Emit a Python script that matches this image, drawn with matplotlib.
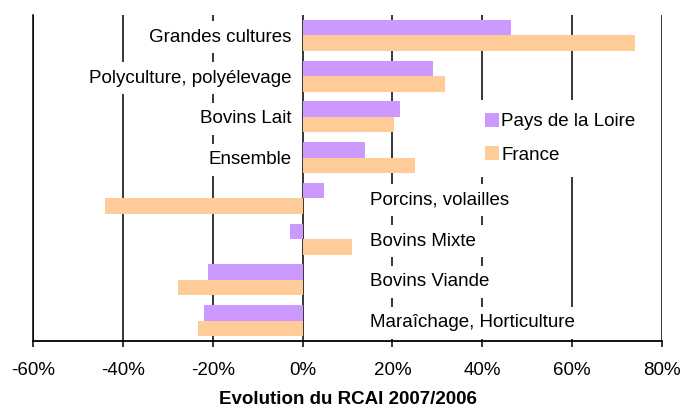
import matplotlib.pyplot as plt
import numpy as np

plt.rcParams['font.family'] = ['Liberation Sans', 'DejaVu Sans']

categories = ["Grandes cultures", "Polyculture, polyélevage", "Bovins Lait", "Ensemble",
              "Porcins, volailles", "Bovins Mixte", "Bovins Viande", "Maraîchage, Horticulture"]
pays_loire = [46.3, 29.0, 21.6, 13.8, 4.7, -2.7, -21.0, -22.0]
france = [74.0, 31.6, 20.3, 25.0, -44.0, 11.1, -27.8, -23.2]
xticks = [-60, -40, -20, 0, 20, 40, 60, 80]

c_pdl = "#CC99FF"
c_fr = "#FFCC99"
fs = 13.5

fig = plt.figure(figsize=(6.8, 4.09), dpi=100)
ax = fig.add_axes([33/680, 1 - 341/409, (662 - 33)/680, (341 - 15)/409])

y = np.arange(len(categories))
h = 0.38
ax.barh(y - h/2, pays_loire, height=h, color=c_pdl, label="Pays de la Loire", zorder=2)
ax.barh(y + h/2, france, height=h, color=c_fr, label="France", zorder=2)

for x in xticks:
    ax.axvline(x, color="black", lw=1.1, zorder=1)

# category labels sit next to the zero line, white box hides the grid behind them
for i, cat in enumerate(categories):
    if i < 4:
        ax.text(-2.5, i + 0.05, cat, ha="right", va="center", fontsize=fs, zorder=3,
                bbox=dict(boxstyle="square,pad=0.4", facecolor="white", edgecolor="none"))
    else:
        ax.text(15, i + 0.05, cat, ha="left", va="center", fontsize=fs, zorder=3,
                bbox=dict(boxstyle="square,pad=0.4", facecolor="white", edgecolor="none"))

ax.set_xlim(-60, 80)
ax.set_ylim(len(categories) - 0.5, -0.5)
ax.set_xticks(xticks)
ax.set_xticklabels([f"{v}%" for v in xticks], fontsize=fs)
ax.set_yticks([])
ax.tick_params(axis="x", direction="out", length=4, width=1.1, pad=11)
ax.spines["top"].set_visible(False)
ax.spines["right"].set_visible(False)
ax.spines["left"].set_linewidth(1.1)
ax.spines["bottom"].set_linewidth(1.3)
ax.set_xlabel("Evolution du RCAI 2007/2006", fontsize=fs, fontweight="bold", labelpad=9)

leg = ax.legend(loc="upper left", bbox_to_anchor=(0.697, 0.74), frameon=True, fontsize=fs,
                handlelength=0.75, handleheight=0.75, handletextpad=0.15, labelspacing=0.85,
                borderpad=0.7, borderaxespad=0, fancybox=False)
leg.get_frame().set_edgecolor("none")
leg.get_frame().set_facecolor("white")
leg.get_frame().set_alpha(1)
leg.set_zorder(4)

fig.savefig("out.png", dpi=100)
